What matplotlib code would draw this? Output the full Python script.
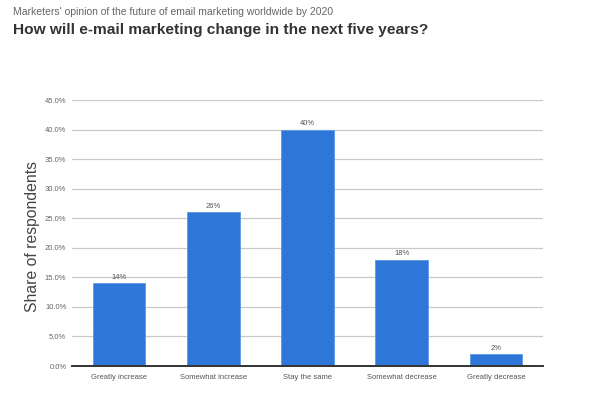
import matplotlib
matplotlib.use("Agg")
import matplotlib.pyplot as plt
from matplotlib.ticker import FuncFormatter

categories = ["Greatly increase", "Somewhat increase", "Stay the same", "Somewhat decrease", "Greatly decrease"]
values = [14, 26, 40, 18, 2]
labels = ["14%", "26%", "40%", "18%", "2%"]
yticks = [0, 5, 10, 15, 20, 25, 30, 35, 40, 45]

plt.rcParams['font.family'] = ['Liberation Sans', 'DejaVu Sans']

fig = plt.figure(figsize=(6, 3.95), dpi=100)
ax = fig.add_axes([0.12, 0.0734, 0.785, 0.6734])

x = range(len(categories))
bars = ax.bar(x, values, width=0.56, color="#2e77d9", edgecolor="#5a9ae8", linewidth=0.6, zorder=3)
for xi, v, lab in zip(x, values, labels):
    ax.text(xi, v + 0.4, lab, ha="center", va="bottom", fontsize=5.5, color="#555555")

ax.set_xlim(-0.5, 4.5)
ax.set_ylim(0, 45)
ax.set_yticks(yticks)
ax.yaxis.set_major_formatter(FuncFormatter(lambda v, p: f"{v:.1f}%"))
ax.set_xticks(list(x))
ax.set_xticklabels(categories)
ax.tick_params(axis="y", length=0, pad=4, labelsize=5.5, labelcolor="#666666")
ax.tick_params(axis="x", length=0, pad=6, labelsize=5.5, labelcolor="#555555")
ax.grid(axis="y", color="#c8c8c8", linewidth=0.9, zorder=0)
for s in ["top", "right", "left"]:
    ax.spines[s].set_visible(False)
ax.spines["bottom"].set_color("#333333")
ax.spines["bottom"].set_linewidth(1.4)
ax.spines["bottom"].set_zorder(4)

fig.text(0.054, 0.40, "Share of respondents", rotation=90, ha="center", va="center",
         fontsize=11.3, color="#444444")

fig.text(13/600, 1 - 12/395, "Marketers' opinion of the future of email marketing worldwide by 2020",
         fontsize=7.45, color="#666666", va="center", ha="left")
fig.text(13/600, 1 - 30/395, "How will e-mail marketing change in the next five years?",
         fontsize=11.15, fontweight="bold", color="#333333", va="center", ha="left")

fig.savefig("out.png", dpi=100)
